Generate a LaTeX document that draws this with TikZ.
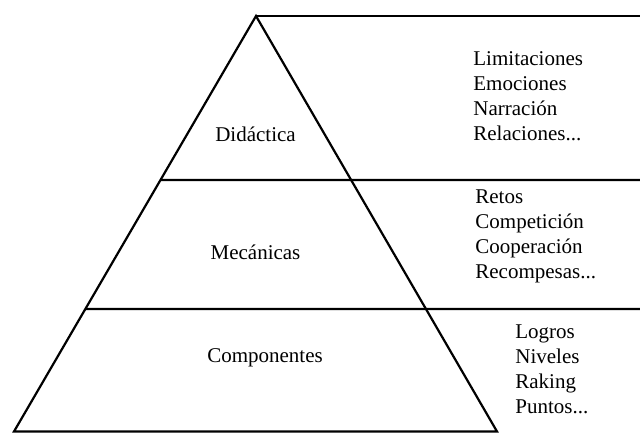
\documentclass[tikz,border=0pt]{standalone}
\usepackage{fontspec}
\setmainfont{Liberation Serif}
\usetikzlibrary{calc}
\tikzset{
  edge/.style={line width=1.1pt, line join=miter},
  level/.style={font=\fontsize{10.5}{12.35}\selectfont, inner sep=0pt, anchor=base},
  items/.style={font=\fontsize{10.5}{12.35}\selectfont, inner sep=0pt, align=left, anchor=base west},
}
\begin{document}
\begin{tikzpicture}[x=0.5pt,y=-0.5pt]
\useasboundingbox (0,0) rectangle (640,433);
% pyramid corners
\coordinate (apex) at (256,16);
\coordinate (bl) at (14,431.5);
\coordinate (br) at (497,431.5);
% where the dividing lines meet the left side
\coordinate (l1) at ($(apex)!0.3947!(bl)$);
\coordinate (l2) at ($(apex)!0.7052!(bl)$);
% right ends of the horizontal lines
\coordinate (r0) at (641,16);
\coordinate (r1) at (641,180);
\coordinate (r2) at (641,309);

\draw[edge] (apex) -- (bl) -- (br) -- cycle;
\draw[edge] (apex) -- (r0);
\draw[edge] (l1) -- (r1);
\draw[edge] (l2) -- (r2);

% level names
\node[level] (did) at (255.5,141) {Didáctica};
\node[level] (mec) at (255.5,259) {Mecánicas};
\node[level] (com) at (265,362) {Componentes};

% examples for each level (placed by the baseline of the last line)
\node[items] (didlist) at (473,140) {Limitaciones\\Emociones\\Narración\\Relaciones...};
\node[items] (meclist) at (475,278) {Retos\\Competición\\Cooperación\\Recompesas...};
\node[items] (comlist) at (515,413) {Logros\\Niveles\\Raking\\Puntos...};
\end{tikzpicture}
\end{document}
